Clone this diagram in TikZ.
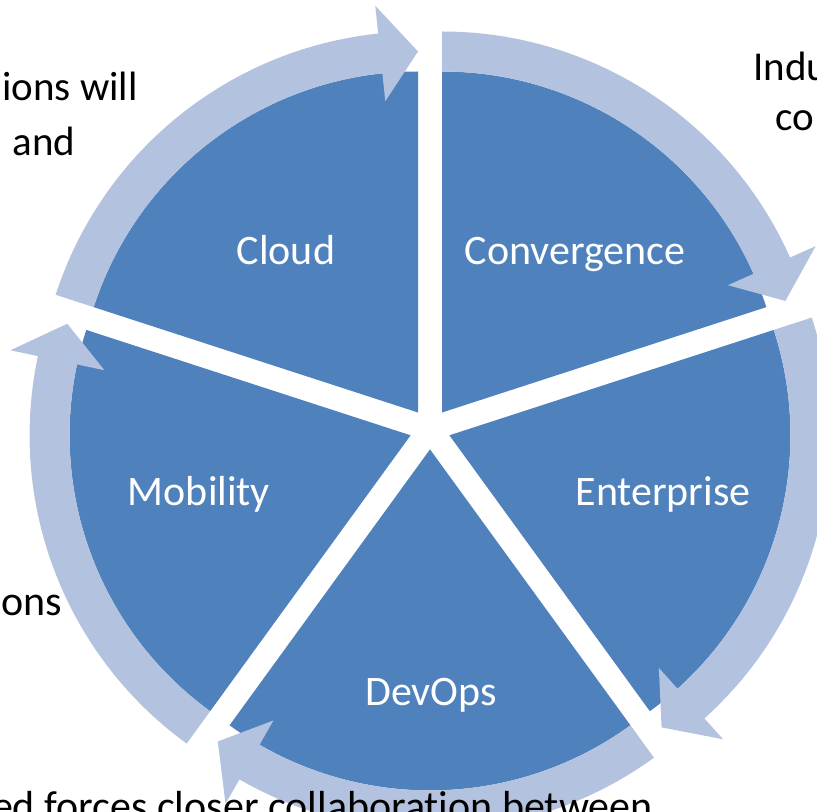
\documentclass[tikz,border=0pt]{standalone}
\usepackage{fontspec}
\setmainfont{Carlito}[RawFeature={-liga}]
\usetikzlibrary{calc}
\definecolor{segblue}{HTML}{4F81BD}
\definecolor{arrblue}{HTML}{B3C2DE}
\begin{document}
\begin{tikzpicture}[x=0.5pt,y=0.5pt,
  seg/.style={fill=segblue},
  arr/.style={fill=arrblue},
  intext/.style={text=white,font=\fontsize{21}{25}\selectfont,inner sep=0pt,anchor=base},
  outtext/.style={text=black,font=\fontsize{20.5}{25}\selectfont,inner sep=0pt,anchor=base west}]
\useasboundingbox (0,0) rectangle (817,811);
\clip (0,0) rectangle (817,811);
\coordinate (C) at (430,382);
% segments
\foreach \p in {126,54,-18,-90,-162}{
  \fill[seg] ($(C)+(\p:20.4)$) -- ++(\p+36:341) arc[start angle=\p+36, end angle=\p-36, radius=341] -- cycle;
}
% arrows
\foreach \p in {126,54,-18,-90,-162}{
  \coordinate (S) at ($(C)+(\p:20.4)$);
  \fill[arr] ($(S)+(\p+36:381)$) arc[start angle=\p+36, end angle=\p-30, radius=381]
     -- ($(S)+(\p-30:409)$) -- ($(S)+(\p-36:361)$) -- ($(S)+(\p-30:313)$)
     -- ($(S)+(\p-30:341)$) arc[start angle=\p-30, end angle=\p+36, radius=341] -- cycle;
}
% segment labels
\node[intext] (cloud) at (286,547) {Cloud};
\node[intext] (conv) at (575,547) {Convergence};
\node[intext] (mob) at (199,306) {Mobility};
\node[intext] (ent) at (663,306) {Enterprise};
\node[intext] (dev) at (431,106) {DevOps};
% outside texts
\node[outtext] (t1) at (2,711) {ions will};
\node[outtext] (t2) at (12,656) {and};
\node[outtext] (t3) at (753,731) {Indu};
\node[outtext] (t4) at (775,681) {co};
\node[outtext,font=\fontsize{21}{25}\selectfont] (t5) at (1,196) {ons};
\node[text=black,font=\fontsize{21}{25}\selectfont,inner sep=0pt,anchor=base east] (t6) at (653,-9) {ed forces closer collaboration between};
\end{tikzpicture}
\end{document}
